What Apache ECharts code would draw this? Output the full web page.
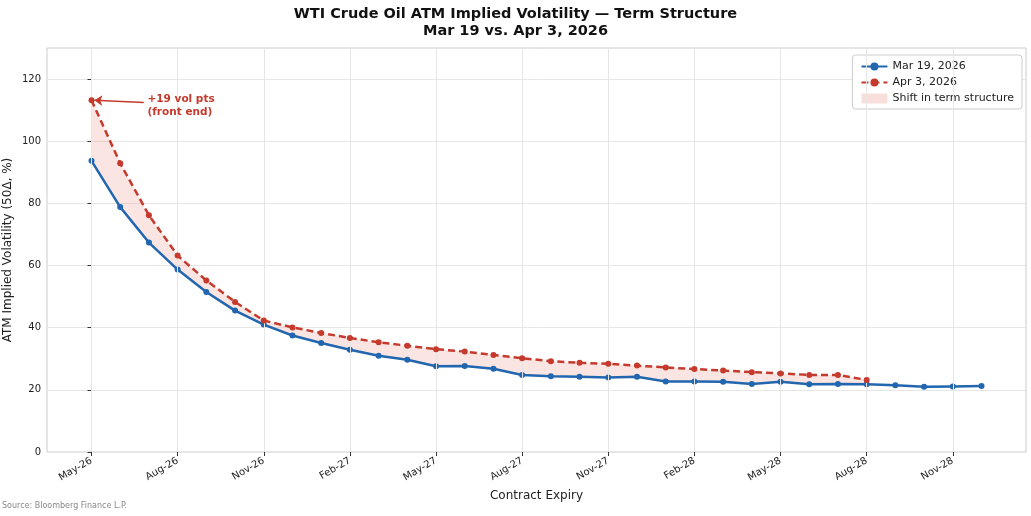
<!DOCTYPE html>
<html><head><meta charset="utf-8">
<script src="https://cdn.jsdelivr.net/npm/echarts@6/dist/echarts.min.js"></script>
<style>html,body{margin:0;padding:0;background:#fff}#c{width:1031px;height:516px}</style>
</head><body><div id="c"></div>
<script>
const months = ['May-26','Jun-26','Jul-26','Aug-26','Sep-26','Oct-26','Nov-26','Dec-26','Jan-27','Feb-27','Mar-27','Apr-27','May-27','Jun-27','Jul-27','Aug-27','Sep-27','Oct-27','Nov-27','Dec-27','Jan-28','Feb-28','Mar-28','Apr-28','May-28','Jun-28','Jul-28','Aug-28','Sep-28','Oct-28','Nov-28','Dec-28'];
const tickMonths = ['May-26','Aug-26','Nov-26','Feb-27','May-27','Aug-27','Nov-27','Feb-28','May-28','Aug-28','Nov-28'];
const mar19 = [93.7,78.8,67.4,58.7,51.5,45.5,41.0,37.5,35.1,32.9,31.0,29.7,27.6,27.7,26.8,24.8,24.4,24.2,24.0,24.2,22.7,22.7,22.6,21.9,22.6,21.8,21.9,21.8,21.5,21.0,21.1,21.2];
const apr3 = [113.2,92.9,76.2,63.2,55.2,48.3,42.3,40.1,38.3,36.7,35.3,34.2,33.1,32.3,31.2,30.2,29.2,28.7,28.4,27.8,27.2,26.7,26.2,25.7,25.3,24.8,24.8,23.2];
const yTicks = [0,20,40,60,80,100,120];

const BLUE = '#2166ae', RED = '#c53a2c', FILL = 'rgba(236,150,140,0.25)';
const xOf = m => months.indexOf(m);
const bluePts = mar19.map((v,i)=>[i,v]);
const redPts = apr3.map((v,i)=>[i,v]);
const bandPts = apr3.map((v,i)=>[i,mar19[i],v]);
const tickIdx = tickMonths.map(xOf);

const chart = echarts.init(document.getElementById('c'));
const axisFont = {fontFamily:'DejaVu Sans', fontSize:10, color:'#222'};
chart.setOption({
  animation:false,
  title:{text:'WTI Crude Oil ATM Implied Volatility — Term Structure\nMar 19 vs. Apr 3, 2026', left:'center', top:1,
    textStyle:{fontFamily:'DejaVu Sans', fontWeight:'bold', fontSize:14.5, color:'#111', lineHeight:17}},
  graphic:[{type:'text', left:2, top:502, style:{text:'Source: Bloomberg Finance L.P.', fontFamily:'DejaVu Sans', fontSize:8, fill:'#888'}}],
  legend:{orient:'vertical', right:9, top:55, itemWidth:26, itemHeight:10, itemGap:5,
    backgroundColor:'#fff', borderColor:'#ccc', borderWidth:1, borderRadius:3, padding:[6,8,5,8],
    textStyle:{fontFamily:'DejaVu Sans', fontSize:11, color:'#222'},
    data:[{name:'Mar 19, 2026'},{name:'Apr 3, 2026'},{name:'Shift in term structure', icon:'rect', itemStyle:{color:'rgba(236,150,140,0.3)'}}]},
  grid:{left:47, right:5, top:48, bottom:64, show:true, borderColor:'#ccc', borderWidth:1, outerBoundsMode:'none', containLabel:false},
  xAxis:{type:'value', min:-1.55, max:32.55,
    name:'Contract Expiry', nameLocation:'middle', nameGap:38, nameMoveOverlap:false, nameTextStyle:{fontFamily:'DejaVu Sans', fontSize:12, color:'#222'},
    axisLine:{show:false},
    axisTick:{show:true, customValues:tickIdx, length:4, lineStyle:{color:'#333'}},
    axisLabel:Object.assign({customValues:tickIdx, rotate:30, margin:8, formatter:v=>months[Math.round(v)]||''}, axisFont),
    splitLine:{show:false}},
  yAxis:{type:'value', min:0, max:130, interval:20,
    name:'ATM Implied Volatility (50Δ, %)', nameLocation:'middle', nameGap:33, nameMoveOverlap:false, nameTextStyle:{fontFamily:'DejaVu Sans', fontSize:12, color:'#222'},
    axisLine:{show:false},
    axisTick:{show:true, length:4, lineStyle:{color:'#333'}, customValues:yTicks},
    axisLabel:Object.assign({customValues:yTicks, margin:6}, axisFont),
    splitLine:{show:true, lineStyle:{color:'#e6e6e6', width:1}}},
  series:[
    {name:'Shift in term structure', type:'custom', data:bandPts, silent:true, z:1, itemStyle:{color:'rgba(236,150,140,0.3)'},
     encode:{x:0, y:[1,2]},
     renderItem:(params, api)=>{
       if (params.dataIndex !== 0) return null;
       const top = bandPts.map(p=>api.coord([p[0], p[2]]));
       const bot = bandPts.map(p=>api.coord([p[0], p[1]])).reverse();
       return {type:'polygon', shape:{points:top.concat(bot)}, style:{fill:FILL}};
     },
     markLine:{silent:true, symbol:'none', label:{show:false}, lineStyle:{color:'#e6e6e6', width:1, type:'solid'},
       data:tickIdx.map(i=>({xAxis:i}))}},
    {name:'Mar 19, 2026', type:'line', data:bluePts, symbol:'circle', symbolSize:6, lineStyle:{color:BLUE, width:2.5}, itemStyle:{color:BLUE}, z:4},
    {name:'Apr 3, 2026', type:'line', data:redPts, symbol:'circle', symbolSize:6, lineStyle:{color:RED, width:2.5, type:[7,4]}, itemStyle:{color:RED}, z:5,
     markLine:{silent:true, symbol:['none','arrow'], symbolSize:8, label:{show:false}, lineStyle:{color:RED, width:1.5, type:'solid'},
       data:[[{coord:[1.82, apr3[0]-0.7]},{coord:[0.1, apr3[0]]}]]},
     markPoint:{silent:true, symbol:'circle', symbolSize:0,
       data:[{coord:[1.95, apr3[0]-1.9], label:{show:true, position:'right', distance:0, formatter:'+19 vol pts\n(front end)', color:RED, fontFamily:'DejaVu Sans', fontWeight:'bold', fontSize:10.5, lineHeight:13}}]}}
  ]
});
</script></body></html>
